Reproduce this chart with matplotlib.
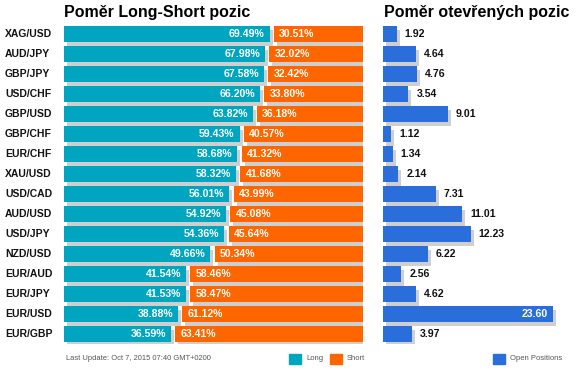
import matplotlib
matplotlib.use("Agg")
import matplotlib.pyplot as plt
import matplotlib.transforms as mtransforms
from matplotlib.patches import Rectangle

W, H = 588, 373

pairs = ['XAG/USD', 'AUD/JPY', 'GBP/JPY', 'USD/CHF', 'GBP/USD', 'GBP/CHF', 'EUR/CHF', 'XAU/USD',
         'USD/CAD', 'AUD/USD', 'USD/JPY', 'NZD/USD', 'EUR/AUD', 'EUR/JPY', 'EUR/USD', 'EUR/GBP']
long_pct = [69.49, 67.98, 67.58, 66.20, 63.82, 59.43, 58.68, 58.32,
            56.01, 54.92, 54.36, 49.66, 41.54, 41.53, 38.88, 36.59]
short_pct = [30.51, 32.02, 32.42, 33.80, 36.18, 40.57, 41.32, 41.68,
             43.99, 45.08, 45.64, 50.34, 58.46, 58.47, 61.12, 63.41]
open_pos = [1.92, 4.64, 4.76, 3.54, 9.01, 1.12, 1.34, 2.14,
            7.31, 11.01, 12.23, 6.22, 2.56, 4.62, 23.60, 3.97]

TEAL = '#00a5c0'
ORANGE = '#ff6600'
BLUE = '#2a6edb'
SHADOW = '#cfcfcf'
FONT = 'Liberation Sans'

plt.rcParams['font.family'] = [FONT, 'DejaVu Sans']

fig = plt.figure(figsize=(W / 100, H / 100), dpi=100)


def box(x0, y0, x1, y1):
    # pixel box (top-left origin) -> figure fraction rect
    return [x0 / W, (H - y1) / H, (x1 - x0) / W, (y1 - y0) / H]


n = len(pairs)
rows = list(range(n))
bh = 0.8
shadow = mtransforms.ScaledTranslation(3 / 100, -4 / 100, fig.dpi_scale_trans)

# left panel: long/short ratio
ax1 = fig.add_axes(box(64, 24, 363, 343.9))
ax1.set_xlim(0, 100)
ax1.set_ylim(n - 0.5, -0.5)
ax1.axis('off')

long_w = [v - 0.7 for v in long_pct]
short_left = [v + 0.7 for v in long_pct]
short_w = [100 - v for v in short_left]

ax1.barh(rows, long_w, height=bh, color=SHADOW, transform=ax1.transData + shadow, zorder=1)
ax1.barh(rows, short_w, left=short_left, height=bh, color=SHADOW,
         transform=ax1.transData + shadow, zorder=1)
ax1.barh(rows, long_w, height=bh, color=TEAL, zorder=2)
ax1.barh(rows, short_w, left=short_left, height=bh, color=ORANGE, zorder=2)

for i in rows:
    ax1.text(long_w[i] - 1.7, i, f'{long_pct[i]:.2f}%', ha='right', va='center',
             color='white', fontsize=7.6, fontweight='bold', zorder=3)
    ax1.text(short_left[i] + 1.8, i, f'{short_pct[i]:.2f}%', ha='left', va='center',
             color='white', fontsize=7.6, fontweight='bold', zorder=3)

lab_tr = mtransforms.blended_transform_factory(fig.transFigure, ax1.transData)
for i, p in enumerate(pairs):
    ax1.text(5 / W, i, p, transform=lab_tr, ha='left', va='center',
             fontsize=7.5, fontweight='bold', color='#111111')

# right panel: open positions
ax2 = fig.add_axes(box(383, 24, 558, 343.9))
ax2.set_xlim(0, 175 / 7.19)
ax2.set_ylim(n - 0.5, -0.5)
ax2.axis('off')

ax2.barh(rows, open_pos, height=bh, color=SHADOW, transform=ax2.transData + shadow, zorder=1)
ax2.barh(rows, open_pos, height=bh, color=BLUE, zorder=2)
vmax = max(open_pos)
for i, v in enumerate(open_pos):
    if v > 0.6 * vmax:
        ax2.text(v - 0.7, i, f'{v:.2f}', ha='right', va='center', color='white',
                 fontsize=7.6, fontweight='bold', zorder=3)
    else:
        ax2.text(v + 1.1, i, f'{v:.2f}', ha='left', va='center', color='#111111',
                 fontsize=7.6, fontweight='bold', zorder=3)

# titles
fig.text(64 / W, 1 - 17.5 / H, 'Poměr Long-Short pozic', fontsize=11.5,
         fontweight='bold', va='baseline', ha='left')
fig.text(384 / W, 1 - 17.5 / H, 'Poměr otevřených pozic', fontsize=11.5,
         fontweight='bold', va='baseline', ha='left')

# footer
fig.text(66 / W, 1 - 359 / H, 'Last Update: Oct 7, 2015 07:40 GMT+0200',
         fontsize=5.4, color='#555555', va='center', ha='left')

legend_items = [(289, TEAL, 'Long'), (330, ORANGE, 'Short'), (493, BLUE, 'Open Positions')]
for x0, col, txt in legend_items:
    fig.add_artist(Rectangle((x0 / W, (H - 364) / H), 12 / W, 10 / H,
                             transform=fig.transFigure, color=col))
    fig.text((x0 + 17) / W, 1 - 359 / H, txt, fontsize=5.5, color='#555555',
             va='center', ha='left')

fig.savefig('out.png', dpi=100)
